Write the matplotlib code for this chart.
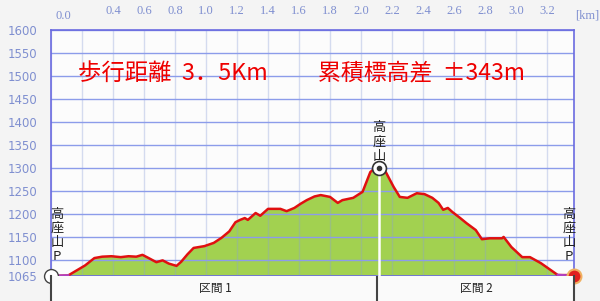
import matplotlib
matplotlib.use("Agg")
import matplotlib.pyplot as plt

plt.rcParams['font.family'] = ['Noto Sans CJK JP', 'DejaVu Sans']

# Perfil de altitude (distancia em km, altitude em m)
distancia = [0.00, 0.11, 0.16, 0.22, 0.28, 0.33, 0.39, 0.45, 0.50, 0.55,
             0.59, 0.63, 0.68, 0.72, 0.76, 0.81, 0.84, 0.88, 0.92, 0.99,
             1.05, 1.10, 1.15, 1.19, 1.22, 1.25, 1.27, 1.32, 1.35, 1.40,
             1.48, 1.52, 1.57, 1.61, 1.65, 1.70, 1.74, 1.80, 1.85, 1.88,
             1.95, 2.01, 2.06, 2.10, 2.12, 2.16, 2.21, 2.25, 2.30, 2.36,
             2.41, 2.46, 2.50, 2.53, 2.56, 2.59, 2.64, 2.68, 2.74, 2.78,
             2.83, 2.91, 2.92, 2.97, 3.04, 3.09, 3.16, 3.27, 3.35, 3.37]
altitude = [1065, 1066, 1076, 1088, 1104, 1107, 1108, 1106, 1108, 1107,
            1111, 1104, 1095, 1099, 1092, 1087, 1096, 1112, 1126, 1130,
            1137, 1148, 1162, 1182, 1187, 1191, 1187, 1202, 1196, 1211,
            1211, 1206, 1213, 1222, 1230, 1238, 1241, 1237, 1224, 1230,
            1235, 1248, 1291, 1302, 1300, 1291, 1259, 1237, 1235, 1245,
            1243, 1235, 1224, 1209, 1213, 1204, 1191, 1180, 1165, 1145,
            1147, 1147, 1150, 1128, 1106, 1106, 1093, 1067, 1067, 1065]

# Trechos de estrada (linha roxa no inicio e no fim)
estrada_ini = [0.00, 0.11]
estrada_fim = [3.27, 3.37]

y_ticks = [1065, 1100, 1150, 1200, 1250, 1300, 1350, 1400, 1450, 1500, 1550, 1600]
x_grade = [0.0, 0.2, 0.4, 0.6, 0.8, 1.0, 1.2, 1.4, 1.6, 1.8, 2.0, 2.2, 2.4,
           2.6, 2.8, 3.0, 3.2]
x_rotulos = ['', '', '0.4', '0.6', '0.8', '1.0', '1.2', '1.4', '1.6', '1.8',
             '2.0', '2.2', '2.4', '2.6', '2.8', '3.0', '3.2']

pico_km = 2.116
pico_alt = 1300
fim_km = 3.374
secoes = ['区間 1', '区間 2']

cor_eixo = '#7f8fd0'
cor_borda = '#6a6ae0'

fig = plt.figure(figsize=(6.0, 3.01), dpi=100)
fig.patch.set_facecolor('#f4f4f4')

ax = fig.add_axes([51 / 600, 25 / 301, 523 / 600, 246 / 301])
ax.set_facecolor('#fcfcfc')
ax.set_xlim(0, fim_km)
ax.set_ylim(1065, 1600)

# preenchimento verde e linha vermelha
ax.fill_between(distancia, altitude, 1065, color='#a2d150', zorder=1, lw=0)
for g in x_grade:
    ax.axvline(g, color='#8aa0d8', alpha=0.35, lw=1, zorder=2)
for t in y_ticks:
    ax.axhline(t, color='#8c9cea', lw=1, zorder=2)
ax.axvline(pico_km, ymax=(pico_alt - 1065) / 535, color='white', lw=1.8, zorder=3)
ax.plot(distancia, altitude, color='#e01010', lw=1.8, zorder=4)
ax.plot(estrada_ini, [1065, 1066], color='#b040c0', lw=2, zorder=5)
ax.plot(estrada_fim, [1067, 1065], color='#b040c0', lw=2, zorder=5)

# eixos
ax.set_yticks(y_ticks)
ax.set_yticklabels([str(t) for t in y_ticks], family='DejaVu Sans')
ax.tick_params(axis='y', length=0, pad=10, labelsize=8.5, labelcolor=cor_eixo)
ax.xaxis.tick_top()
ax.set_xticks(x_grade)
ax.set_xticklabels(x_rotulos, family='Liberation Serif')
ax.tick_params(axis='x', length=0, pad=9, labelsize=9, labelcolor=cor_eixo)
for s in ax.spines.values():
    s.set_color(cor_borda)
    s.set_linewidth(1.2)
fig.text(63 / 600, 1 - 16 / 301, '0.0', color=cor_eixo, fontsize=9,
         family='Liberation Serif', ha='center', va='center')
fig.text(587 / 600, 1 - 16 / 301, '[km]', color=cor_eixo, fontsize=9,
         family='Liberation Serif', ha='center', va='center')

# titulos em vermelho
ax.text(0.174, 1506, '歩行距離  3．5Km', color='#ee0000', fontsize=16.8,
        ha='left', va='center', zorder=6)
ax.text(1.72, 1506, '累積標高差  ±343m', color='#ee0000', fontsize=16.5,
        ha='left', va='center', zorder=6)

# marcadores
ax.plot([0], [1065], 'o', ms=10, mfc='white', mec='#444444', mew=1, zorder=7, clip_on=False)
ax.plot([pico_km], [pico_alt], 'o', ms=10, mfc='white', mec='#333333', mew=1.2, zorder=7)
ax.plot([pico_km], [pico_alt], 'o', ms=3, mfc='#333333', mec='#333333', zorder=8)
ax.plot([fim_km], [1065], 'o', ms=10, mfc='#e02020', mec='#f0b060', mew=1.5, zorder=7, clip_on=False)

ax.text(0.04, 1093, '高\n座\n山\nP', fontsize=9.5, ha='center', va='bottom',
        linespacing=1.1, color='#222222', zorder=6)
ax.text(3.342, 1093, '高\n座\n山\nP', fontsize=9.5, ha='center', va='bottom',
        linespacing=1.1, color='#222222', zorder=6, clip_on=False)
ax.text(pico_km, 1311, '高\n座\n山', fontsize=9.5, ha='center', va='bottom',
        linespacing=1.15, color='#222222', zorder=6)

# faixa dos trechos embaixo
bx = fig.add_axes([51 / 600, 0, 523 / 600, 25 / 301])
bx.set_facecolor('#fafafa')
bx.set_xlim(0, fim_km)
bx.set_ylim(0, 1)
bx.set_xticks([])
bx.set_yticks([])
for lado in ['top', 'bottom']:
    bx.spines[lado].set_visible(False)
for lado in ['left', 'right']:
    bx.spines[lado].set_color('#444444')
    bx.spines[lado].set_linewidth(1.5)
bx.axvline(pico_km - 0.01, color='#444444', lw=1.5)
bx.text((0 + pico_km) / 2, 0.5, secoes[0], fontsize=8.5, ha='center', va='center', color='#222222')
bx.text((pico_km + fim_km) / 2, 0.5, secoes[1], fontsize=8.5, ha='center', va='center', color='#222222')

fig.savefig('out.png', dpi=100, facecolor=fig.get_facecolor())
